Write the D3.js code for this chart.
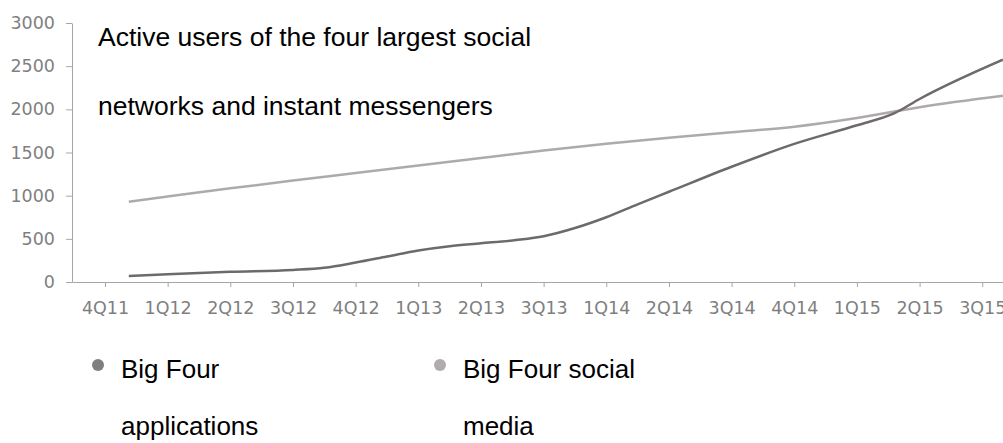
<!DOCTYPE html>
<html>
<head>
<meta charset="utf-8">
<script src="https://cdn.jsdelivr.net/npm/d3@7"></script>
<style>
  html, body { margin: 0; padding: 0; background: #fff; }
  svg { display: block; }
</style>
</head>
<body>
<svg id="chart" width="1003" height="443"></svg>
<script>
  // quarter labels on the category axis (4Q13 is absent in the source)
  const quarters = ["4Q11", "1Q12", "2Q12", "3Q12", "4Q12", "1Q13", "2Q13", "3Q13",
    "1Q14", "2Q14", "3Q14", "4Q14", "1Q15", "2Q15", "3Q15"];
  const yTicks = [0, 500, 1000, 1500, 2000, 2500, 3000];

  // sample positions, in quarters from the first label
  const appsPos = [0.38, 1, 2, 3, 3.5, 4, 4.5, 5, 5.5, 6, 6.56, 7, 7.5, 8, 8.5, 9, 10, 11, 12, 12.6, 13, 14.33];
  const appsVal = [69, 90, 118, 140, 165, 225, 295, 365, 415, 448, 486, 530, 625, 750, 900, 1045, 1335, 1600, 1815, 1955, 2120, 2575];

  const socialPos = [0.38, 1, 2, 3, 4, 5, 6, 7, 8, 9, 10, 11, 12, 13, 14.33];
  const socialVal = [930, 990, 1085, 1175, 1262, 1350, 1437, 1522, 1600, 1670, 1735, 1799, 1900, 2025, 2157];

  const titleLines = ["Active users of the four largest social", "networks and instant messengers"];
  const legendItems = [
    { lines: ["Big Four", "applications"], color: "#7f7f7f" },
    { lines: ["Big Four social", "media"], color: "#b0acac" },
  ];

  (function () {
    const svg = d3.select("#chart");
    const W = 1003;
    const mLeft = 72, mTop = 23, mBottom = 282;
    const step = 62.66;

    const x0 = -(105 - mLeft) / step;
    const x = d3.scaleLinear()
      .domain([x0, x0 + (W - mLeft) / step])
      .range([mLeft, W]);
    const y = d3.scaleLinear().domain([0, 3000]).range([mBottom, mTop]);

    const axisColor = "#a6a6a6";
    const labelColor = "#7f7f7f";

    // y axis
    const gy = svg.append("g")
      .attr("transform", `translate(${mLeft},0)`)
      .call(d3.axisLeft(y).tickValues(yTicks).tickFormat(d3.format("d"))
        .tickSize(6).tickSizeOuter(0).tickPadding(11));
    gy.select(".domain").attr("stroke", axisColor);
    gy.selectAll(".tick line").attr("stroke", axisColor);
    gy.selectAll(".tick text")
      .attr("fill", labelColor)
      .attr("font-family", "DejaVu Sans")
      .attr("font-size", 17.5);

    // x axis
    const gx = svg.append("g")
      .attr("transform", `translate(0,${mBottom})`)
      .call(d3.axisBottom(x).tickValues(d3.range(quarters.length))
        .tickFormat((i) => quarters[i]).tickSize(5).tickSizeOuter(0));
    gx.select(".domain").attr("stroke", axisColor);
    gx.selectAll(".tick line").attr("stroke", axisColor);
    gx.selectAll(".tick text")
      .attr("fill", labelColor)
      .attr("font-family", "DejaVu Sans")
      .attr("font-size", 17.5)
      .attr("dy", null)
      .attr("y", 32);

    // series
    const line = d3.line()
      .x((d) => x(d[0]))
      .y((d) => y(d[1]))
      .curve(d3.curveMonotoneX);

    svg.append("path")
      .datum(d3.zip(socialPos, socialVal))
      .attr("fill", "none")
      .attr("stroke", "#aeaaaa")
      .attr("stroke-width", 2.5)
      .attr("d", line);

    svg.append("path")
      .datum(d3.zip(appsPos, appsVal))
      .attr("fill", "none")
      .attr("stroke", "#6e6a6a")
      .attr("stroke-width", 2.5)
      .attr("d", line);

    // title
    svg.append("g").selectAll("text")
      .data(titleLines)
      .join("text")
      .attr("x", 98)
      .attr("y", (d, i) => 46 + i * 69)
      .attr("font-family", "Liberation Sans, Arial, sans-serif")
      .attr("font-size", 26.5)
      .attr("fill", "#000")
      .text((d) => d);

    // legend
    const lg = svg.append("g").selectAll("g")
      .data(legendItems)
      .join("g")
      .attr("transform", (d, i) => `translate(${98 + i * 342},0)`);
    lg.append("circle")
      .attr("cx", 0)
      .attr("cy", 365)
      .attr("r", 6)
      .attr("fill", (d) => d.color);
    lg.selectAll("text")
      .data((d) => d.lines)
      .join("text")
      .attr("x", 23)
      .attr("y", (d, i) => 378 + i * 57)
      .attr("font-family", "Liberation Sans, Arial, sans-serif")
      .attr("font-size", 26)
      .attr("fill", "#000")
      .text((d) => d);
  })();
</script>
</body>
</html>
